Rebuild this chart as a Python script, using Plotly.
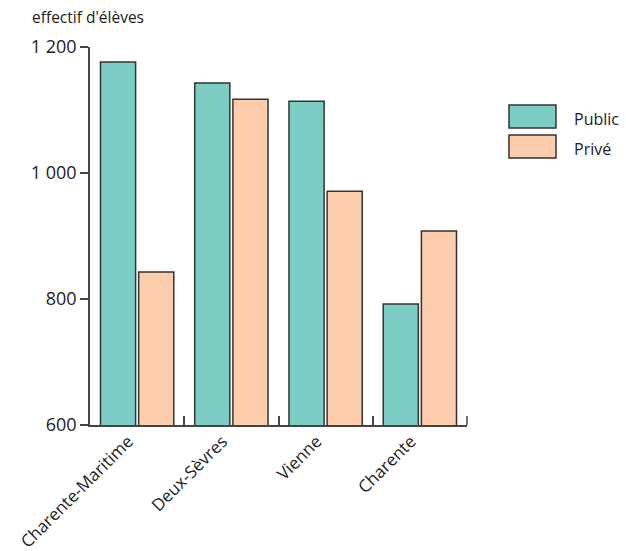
import plotly.graph_objects as go

categories = ["Charente-Maritime", "Deux-Sèvres", "Vienne", "Charente"]
public = [1176, 1143, 1114, 792]
prive = [843, 1117, 971, 908]
ytickvals = [600, 800, 1000, 1200]
yticktext = ["600", "800", "1 000", "1 200"]

teal = "#7ccdc4"
peach = "#fbcdac"
edge = "#333333"
axcol = "#444444"
font = "Open Sans"

W, H = 626, 551
L, T, R, B = 90, 47, 159, 126
PW, PH = W - L - R, H - T - B

def px(x):
    return (x - L) / PW

def py(y):
    return 1 - (y - T) / PH

fig = go.Figure()
fig.add_trace(go.Bar(name="Public", x=categories, y=public,
                     marker=dict(color=teal, line=dict(color=edge, width=1.5)), showlegend=False))
fig.add_trace(go.Bar(name="Privé", x=categories, y=prive,
                     marker=dict(color=peach, line=dict(color=edge, width=1.5)), showlegend=False))

fig.update_layout(
    width=W, height=H,
    margin=dict(l=L, r=R, t=T, b=B, autoexpand=False),
    paper_bgcolor="white", plot_bgcolor="white",
    barmode="group", bargap=0.19, bargroupgap=0.08,
    font=dict(family=font, color="#222222"),
    xaxis=dict(showline=True, linecolor=axcol, linewidth=1.5, ticks="inside", tickson="boundaries",
               ticklen=9, tickcolor=axcol, tickwidth=1.5, tickangle=-45, tickfont=dict(size=17),
               ticklabelshift=-9, ticklabelstandoff=-2, showgrid=False, automargin=False),
    yaxis=dict(range=[600, 1200], showline=True, linecolor=axcol, linewidth=1.5, ticks="outside",
               ticklen=8, tickcolor=axcol, tickwidth=1.5, tickvals=ytickvals, ticktext=yticktext,
               tickfont=dict(size=18), showgrid=False, zeroline=False, automargin=False),
    annotations=[
        dict(text="effectif d'élèves", xref="paper", yref="paper", x=px(30), y=1.0, yshift=17,
             xanchor="left", yanchor="bottom", showarrow=False, font=dict(size=15.5)),
    ],
)

# right end tick of the x axis
fig.add_shape(type="line", xref="paper", yref="paper", x0=1, x1=1, y0=0, y1=9 / PH,
              line=dict(color=axcol, width=1.5))

# legend drawn manually
items = [("Public", teal), ("Privé", peach)]
for i, (name, col) in enumerate(items):
    y0 = 105 + i * 30
    fig.add_shape(type="rect", xref="paper", yref="paper",
                  x0=px(509), x1=px(556), y0=py(y0 + 23), y1=py(y0),
                  fillcolor=col, line=dict(color=edge, width=1.5))
    fig.add_annotation(text=name, xref="paper", yref="paper", x=px(572),
                       y=py(y0 + 14), xanchor="left", yanchor="middle",
                       showarrow=False, font=dict(size=16))

fig.write_html("out.html", config={"displayModeBar": False},
               post_script="document.body.style.margin='0';document.body.style.overflow='hidden';")
